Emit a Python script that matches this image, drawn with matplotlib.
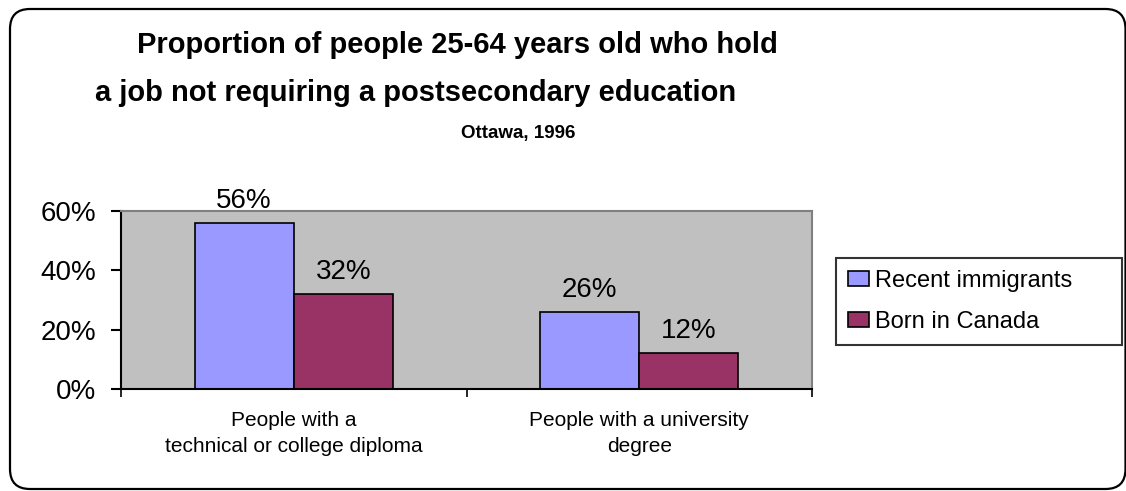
import matplotlib
matplotlib.use("Agg")
import matplotlib.pyplot as plt
from matplotlib.patches import FancyBboxPatch
import numpy as np

plt.rcParams['font.family'] = ['Liberation Sans', 'DejaVu Sans']

categories = ["People with a\ntechnical or college diploma", "People with a university\ndegree"]
series_names = ["Recent immigrants", "Born in Canada"]
recent_immigrants = [0.56, 0.26]
born_in_canada = [0.32, 0.12]
value_labels_recent = ["56%", "26%"]
value_labels_born = ["32%", "12%"]
yticks = [0.0, 0.2, 0.4, 0.6]
ytick_labels = ["0%", "20%", "40%", "60%"]
colors = ["#9999FF", "#993366"]

W, H = 1126, 491
fig = plt.figure(figsize=(W/100, H/100), dpi=100)

# background axes in pixel coordinates for the rounded border
bg = fig.add_axes([0, 0, 1, 1], zorder=-10)
bg.set_xlim(0, W)
bg.set_ylim(H, 0)
bg.axis("off")
bg.add_patch(FancyBboxPatch((10, 9), 1115.5, 480,
                            boxstyle="round,pad=0,rounding_size=20",
                            fill=False, lw=1.6, edgecolor="black"))

left, right, top, bottom = 121, 812, 211, 389
ax = fig.add_axes([left/W, 1 - bottom/H, (right-left)/W, (bottom-top)/H])
ax.set_facecolor("#C0C0C0")

x = np.arange(len(categories))
bw = 0.287
b1 = ax.bar(x - bw/2, recent_immigrants, bw, color=colors[0], edgecolor="black", lw=1.2, label=series_names[0])
b2 = ax.bar(x + bw/2, born_in_canada, bw, color=colors[1], edgecolor="black", lw=1.2, label=series_names[1])
for bars, labs in ((b1, value_labels_recent), (b2, value_labels_born)):
    for rect, lab in zip(bars, labs):
        ax.annotate(lab, (rect.get_x() + rect.get_width()/2, rect.get_height()),
                    xytext=(0, 11), textcoords="offset points",
                    ha="center", va="baseline", fontsize=20)

ax.set_xlim(-0.5, 1.5)
ax.set_ylim(0, 0.6)
ax.set_yticks(yticks)
ax.set_yticklabels(ytick_labels, fontsize=20)
ax.set_xticks([-0.5, 0.5, 1.5])
ax.set_xticklabels([])
ax.set_xticks(x, minor=True)
ax.set_xticklabels(categories, minor=True, fontsize=15, linespacing=1.45)
ax.tick_params(axis="x", which="minor", length=0, pad=16)
ax.tick_params(axis="x", which="major", length=6, width=1.2, direction="out")
ax.tick_params(axis="y", length=7, width=1.5, direction="out", pad=11)
for s in ["left", "bottom"]:
    ax.spines[s].set_linewidth(1.5)
ax.spines["top"].set_color("#808080")
ax.spines["right"].set_color("#808080")
ax.spines["top"].set_linewidth(1.5)
ax.spines["right"].set_linewidth(1.5)

lx0, ly_top, lw_, lh_ = 836, 258, 286, 85
leg = fig.legend(handles=[b1, b2], labels=series_names, loc="upper left",
                 bbox_to_anchor=(lx0/W, 1 - (ly_top + lh_)/H, lw_/W, lh_/H),
                 mode="expand", frameon=True, fancybox=False,
                 edgecolor="black", fontsize=17, handlelength=0.89, handleheight=0.64,
                 handletextpad=0.25, borderpad=0.5, labelspacing=0.8, borderaxespad=0)
leg.get_frame().set_linewidth(1.5)

fig.text(457/W, 1 - 53/H, "Proportion of people 25-64 years old who hold",
         ha="center", va="baseline", fontsize=21, fontweight="bold")
fig.text(416/W, 1 - 101/H, "a job not requiring a postsecondary education",
         ha="center", va="baseline", fontsize=21, fontweight="bold")
fig.text(518/W, 1 - 138/H, "Ottawa, 1996", ha="center", va="baseline",
         fontsize=13.5, fontweight="bold")

fig.savefig("out.png", dpi=100)
